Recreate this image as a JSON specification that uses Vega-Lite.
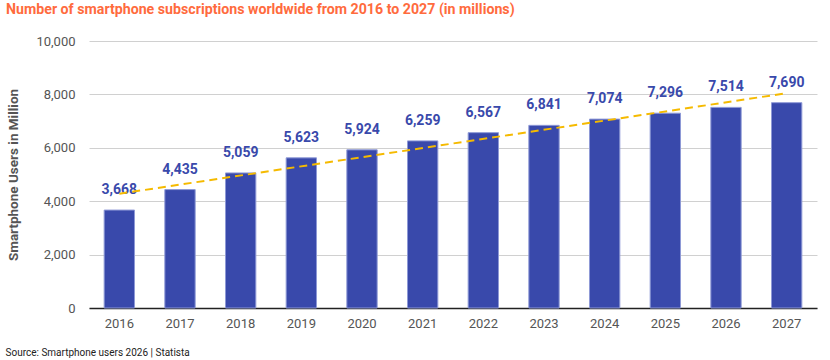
{
  "$schema": "https://vega.github.io/schema/vega-lite/v6.json",
  "width": 728,
  "height": 267,
  "autosize": {"type": "none"},
  "padding": {"left": 89, "top": 41, "right": 13, "bottom": 52},
  "background": "white",
  "title": {
    "text": "Number of smartphone subscriptions worldwide from 2016 to 2027 (in millions)",
    "anchor": "start",
    "frame": "group",
    "dx": -83,
    "offset": 18,
    "font": "Roboto",
    "fontSize": 14.2,
    "fontWeight": "bold",
    "color": "#FF6B3D"
  },
  "config": {
    "view": {"stroke": null},
    "font": "Roboto"
  },
  "data": {
    "values": [
      {"year": 2016, "users": 3668},
      {"year": 2017, "users": 4435},
      {"year": 2018, "users": 5059},
      {"year": 2019, "users": 5623},
      {"year": 2020, "users": 5924},
      {"year": 2021, "users": 6259},
      {"year": 2022, "users": 6567},
      {"year": 2023, "users": 6841},
      {"year": 2024, "users": 7074},
      {"year": 2025, "users": 7296},
      {"year": 2026, "users": 7514},
      {"year": 2027, "users": 7690}
    ]
  },
  "encoding": {
    "x": {
      "field": "year",
      "type": "ordinal",
      "scale": {"paddingInner": 0.5, "paddingOuter": 0.25},
      "axis": {
        "labelAngle": 0,
        "labelFont": "Roboto",
        "labelFontSize": 13,
        "labelColor": "#555555",
        "labelPadding": 9,
        "ticks": false,
        "domainColor": "#222222",
        "domainWidth": 1.5,
        "title": "Source: Smartphone users 2026 | Statista",
        "titleFont": "Roboto",
        "titleFontSize": 10,
        "titleFontWeight": "normal",
        "titleColor": "#222222",
        "titleAnchor": "start",
        "titleAlign": "left",
        "titleBaseline": "alphabetic",
        "titleX": -84,
        "titleY": 47
      }
    },
    "y": {
      "field": "users",
      "type": "quantitative",
      "scale": {"domain": [0, 10000]},
      "axis": {
        "values": [0, 2000, 4000, 6000, 8000, 10000],
        "format": ",d",
        "labelFont": "Roboto",
        "labelFontSize": 13,
        "labelColor": "#555555",
        "labelPadding": 14,
        "ticks": false,
        "domain": false,
        "gridColor": "#d0d0d0",
        "gridWidth": 1,
        "title": "Smartphone Users in Million",
        "titleFont": "Roboto",
        "titleFontSize": 13.5,
        "titleFontWeight": "bold",
        "titleColor": "#555555",
        "titleX": -69,
        "titleAnchor": "middle"
      }
    }
  },
  "layer": [
    {
      "mark": {"type": "bar", "color": "#3949AB", "stroke": "#8E99D6", "strokeWidth": 1}
    },
    {
      "mark": {
        "type": "text",
        "baseline": "alphabetic",
        "dy": -16,
        "font": "Roboto",
        "fontSize": 14,
        "fontWeight": "bold",
        "color": "#3949AB"
      },
      "encoding": {
        "text": {"field": "users", "type": "quantitative", "format": ","}
      }
    },
    {
      "transform": [
        {"regression": "users", "on": "year", "method": "linear"}
      ],
      "mark": {
        "type": "line",
        "color": "#F5BA00",
        "strokeWidth": 2,
        "strokeDash": [8, 5]
      },
      "encoding": {
        "x": {"field": "year", "type": "ordinal"},
        "y": {"field": "users", "type": "quantitative"}
      }
    }
  ]
}
